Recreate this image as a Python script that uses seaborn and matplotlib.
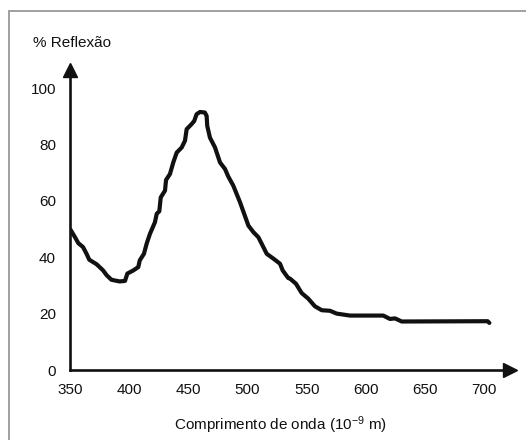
import matplotlib
matplotlib.use("Agg")
import matplotlib.pyplot as plt
import matplotlib.patches as patches
import seaborn as sns
import pandas as pd

# Data
wavelength = [350.5, 354.2, 357, 361, 364, 366.3, 372.5, 378, 381, 385, 392, 396.5,
              398.5, 403.5, 407.7, 409, 412.5, 414.8, 417.6, 421.8, 423.3, 425.5,
              426.7, 430.3, 431.2, 434.5, 437.3, 440.2, 444.4, 447.2, 448.6, 452.8,
              455, 457, 459.9, 464, 465.5, 466, 468.3, 472.6, 476.8, 481, 483.8,
              488, 493.7, 500.8, 505, 509.2, 512, 516.3, 521.9, 527.5, 529.8,
              534.5, 536, 541, 545.8, 551.4, 557, 562.8, 569.8, 575.4, 586.7,
              614.8, 620.5, 624.7, 630.4, 703, 704.5]
reflexao = [49.7, 47.1, 45, 43.6, 41.2, 39.1, 37.5, 35.3, 33.6, 32, 31.4, 31.6,
            34.2, 35.3, 36.5, 38.9, 41.2, 44.8, 48.3, 52.4, 55.4, 56.3,
            61.2, 63.6, 67.4, 69.5, 73.6, 77.1, 78.9, 81.3, 85.4, 87.2,
            88.3, 90.7, 91.5, 91.3, 90.1, 86.6, 82.4, 78.9, 73.6, 71.3, 68.6,
            65.4, 59.5, 51.2, 48.9, 47.1, 44.8, 41.2, 39.5, 37.7, 35.3,
            32.6, 32.4, 30.6, 27.3, 25.3, 22.6, 21.2, 21, 20, 19.3,
            19.3, 18.1, 18.3, 17.2, 17.3, 16.7]
x_ticks = [350, 400, 450, 500, 550, 600, 650, 700]
y_ticks = [0, 20, 40, 60, 80, 100]

sns.set_style("white")
plt.rcParams['font.family'] = ['Liberation Sans', 'DejaVu Sans']
plt.rcParams['mathtext.fontset'] = 'custom'
plt.rcParams['mathtext.rm'] = 'Liberation Sans'
plt.rcParams['mathtext.it'] = 'Liberation Sans'

W, H = 526, 440
fig = plt.figure(figsize=(W / 100, H / 100), dpi=100)
fig.patch.set_facecolor('white')

# axes: left at x=70px, spine end 510px; bottom at y=370px, top spine end at 70px
left, right = 70, 510
bottom, top = 370, 70
ax = fig.add_axes([left / W, (H - bottom) / H, (right - left) / W, (bottom - top) / H])
ax.set_facecolor('none')

df = pd.DataFrame({'wl': wavelength, 'r': reflexao})
sns.lineplot(data=df, x='wl', y='r', ax=ax, sort=False, color='#111111',
             linewidth=3.0, estimator=None)

px_per_x = 1.183
px_per_y = 2.82
ax.set_xlim(350, 350 + (right - left) / px_per_x)
ax.set_ylim(0, (bottom - top) / px_per_y)

for s in ['top', 'right']:
    ax.spines[s].set_visible(False)
for s in ['left', 'bottom']:
    ax.spines[s].set_linewidth(1.9)
    ax.spines[s].set_color('#111111')

ax.plot(1, 0, '>', color='#111111', markersize=9.5, transform=ax.transAxes, clip_on=False)
ax.plot(0, 1, '^', color='#111111', markersize=9.5, transform=ax.transAxes, clip_on=False)

ax.set_xticks(x_ticks)
ax.set_yticks(y_ticks)
ax.tick_params(axis='both', direction='out', length=6, width=1.0, color='#111111',
               labelsize=11, labelcolor='#111111', pad=3.5)
ax.tick_params(axis='y', length=6.5)
ax.set_xlabel('')
ax.set_ylabel('')

fig.text(33 / W, 1 - 43 / H, '% Reflexão', fontsize=11, color='#111111', ha='left', va='center')
fig.text(280 / W, 1 - 425 / H, 'Comprimento de onda (10$^{-9}$ m)', fontsize=11,
         color='#111111', ha='center', va='center')

rect = patches.Rectangle((9 / W, -0.2), 1.2, (1 - 11 / H) + 0.2, transform=fig.transFigure,
                         fill=False, edgecolor='#999999', linewidth=1.3, clip_on=False)
fig.patches.append(rect)

fig.savefig('out.png', dpi=100, facecolor='white')
